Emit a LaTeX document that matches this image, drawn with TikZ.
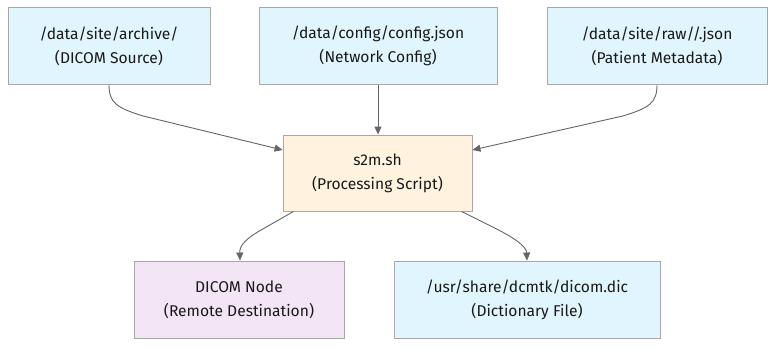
\documentclass[tikz,border=0pt]{standalone}
\usepackage{fontspec}
\setmainfont{Fira Sans}
\usetikzlibrary{arrows.meta,calc}
\definecolor{fileblue}{HTML}{E1F5FE}
\definecolor{scriptorange}{HTML}{FFF3E0}
\definecolor{nodepurple}{HTML}{F3E5F5}
\definecolor{boxline}{HTML}{A8A8A8}
\definecolor{edgegray}{HTML}{666666}
\tikzset{
  box/.style={draw=boxline, line width=0.9pt, rectangle, align=center,
    minimum height=77pt, inner sep=0pt,
    font=\fontsize{15.6}{24}\selectfont, text=black!90},
  flow/.style={draw=edgegray, line width=0.9pt,
    -{Triangle[length=8pt,width=7pt]}, fill=none}
}
\begin{document}
\begin{tikzpicture}[x=1pt,y=-1pt]
\useasboundingbox (0,0) rectangle (783,350);
\fill[white] (0,0) rectangle (783,350);

% inputs
\node[box, fill=fileblue, minimum width=202pt] (src) at (109,46)
  {/data/site/archive/\\(DICOM Source)};
\node[box, fill=fileblue, minimum width=238pt] (cfg) at (378,46)
  {/data/config/config.json\\(Network Config)};
\node[box, fill=fileblue, minimum width=220pt] (meta) at (657,46)
  {/data/site/raw//.json\\(Patient Metadata)};

% processing script
\node[box, fill=scriptorange, minimum width=189pt, minimum height=76pt] (proc) at (377.5,173)
  {s2m.sh\\(Processing Script)};

% outputs
\node[box, fill=nodepurple, minimum width=210pt] (dest) at (239,299.5)
  {DICOM Node\\(Remote Destination)};
\node[box, fill=fileblue, minimum width=266pt] (dict) at (527,299.5)
  {/usr/share/dcmtk/dicom.dic\\(Dictionary File)};

% connectors
\draw[flow] (src.south) .. controls ($(src.south)+(0,18)$) and ($(src.south)+(8,23)$) .. ($(src.south)+(34,31)$) -- ($(proc.west)+(0,-23)$);
\draw[flow] (cfg.south) -- (cfg.south |- proc.north);
\draw[flow] (meta.south) .. controls ($(meta.south)+(0,18)$) and ($(meta.south)+(-8,23)$) .. ($(meta.south)+(-34,31)$) -- ($(proc.east)+(0,-23)$);
\draw[flow] ($(proc.south)+(-84,0)$) -- ($(proc.south)+(-112,16)$) .. controls ($(proc.south)+(-132,27)$) and ($(proc.south)+(-138,34)$) .. ($(dest.north)+(1,0)$);
\draw[flow] ($(proc.south)+(84,0)$) -- ($(proc.south)+(118,17)$) .. controls ($(proc.south)+(140,28)$) and ($(proc.south)+(149,36)$) .. (dict.north);
\end{tikzpicture}
\end{document}
